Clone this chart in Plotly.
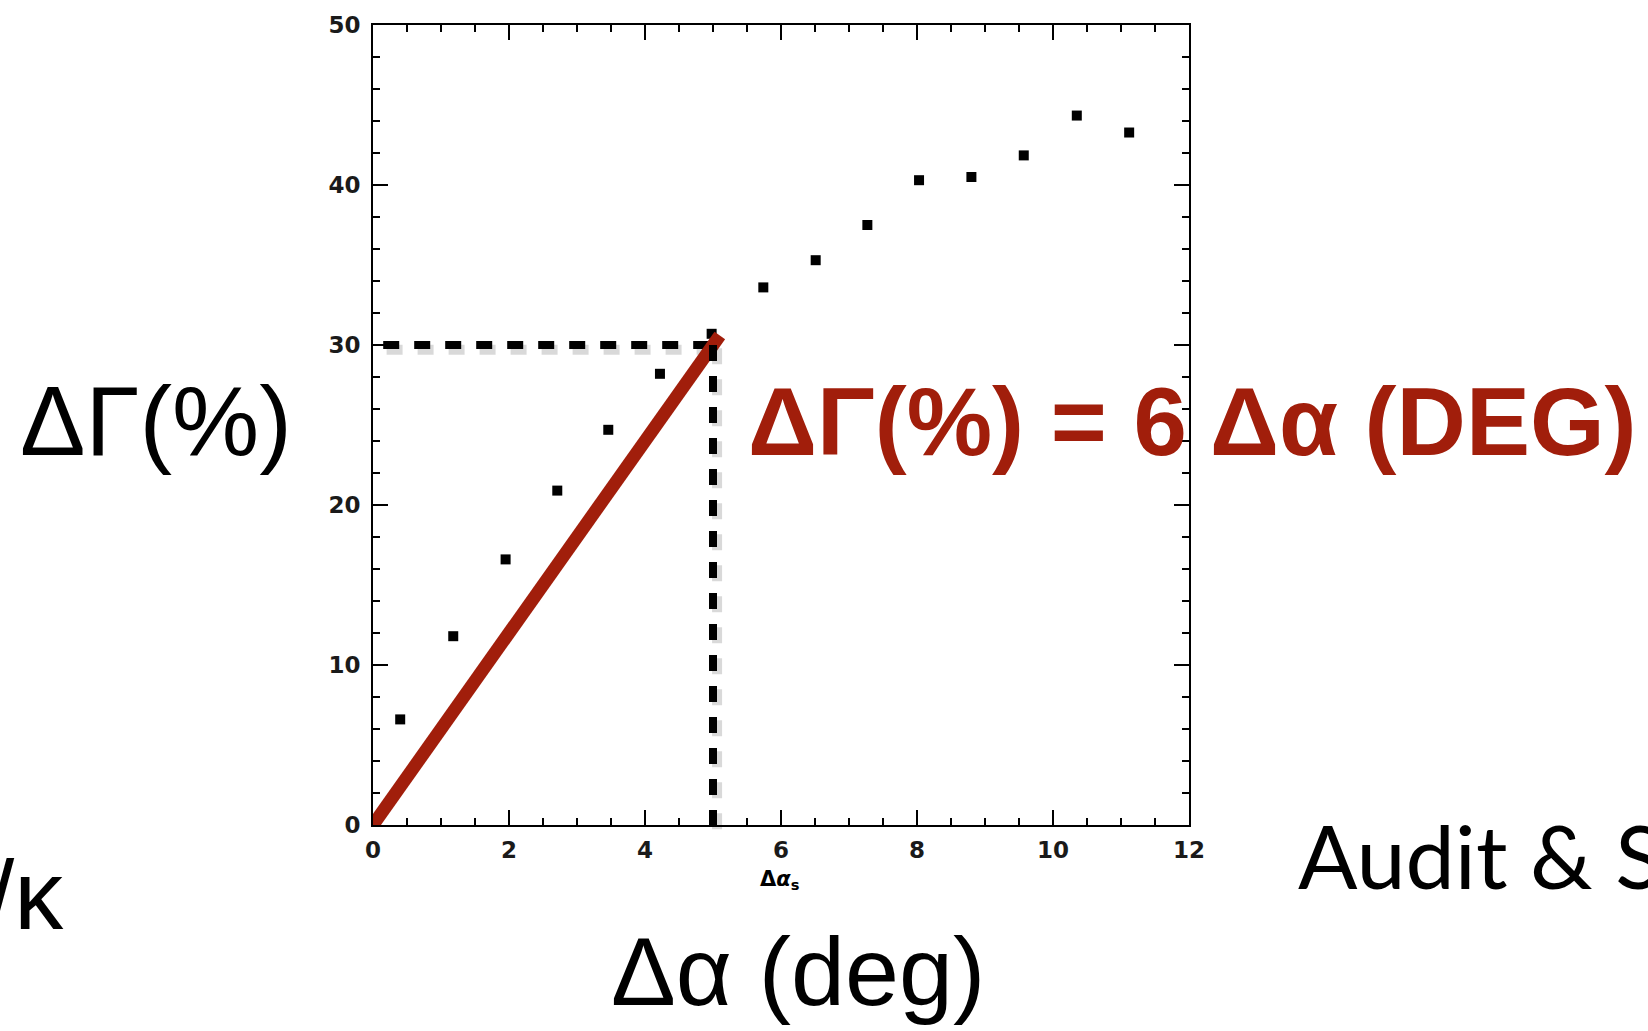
import plotly.graph_objects as go

# Measured growth-rate change vs. angle change
delta_alpha = [0.40, 1.18, 1.95, 2.71, 3.46, 4.22, 4.98, 5.74, 6.51, 7.27, 8.03, 8.80, 9.57, 10.35, 11.12]
delta_gamma = [6.6, 11.8, 16.6, 20.9, 24.7, 28.2, 30.7, 33.6, 35.3, 37.5, 40.3, 40.5, 41.85, 44.34, 43.28]

# Linear rule of thumb: dGamma(%) = 6 * dAlpha(deg)
fit_slope = 6
fit_x = [0, 5.1]
fit_y = [fit_slope * v for v in fit_x]

# Reference read-off point
ref_x = 5.0
ref_y = 30.0

x_range = [0, 12]
y_range = [0, 50]

W, H = 1648, 1031
L, R, T, B = 373, 1189, 21, 825  # plot area in pixels

RED = "#A11E0B"
DASH = "16px,15px"


def paper(px, py):
    return (px - L) / (R - L), (B - py) / (B - T)


fig = go.Figure()

fig.add_trace(go.Scatter(
    x=delta_alpha, y=delta_gamma, mode="markers",
    marker=dict(symbol="square", size=10, color="black", line=dict(width=0)),
    showlegend=False,
))

# soft shadow under the horizontal dashed guide
fig.add_trace(go.Scatter(
    x=[0.2, ref_x + 0.05], y=[ref_y - 0.3, ref_y - 0.3], mode="lines",
    line=dict(color="rgba(0,0,0,0.15)", width=10, dash=DASH),
    showlegend=False, hoverinfo="skip",
))

# horizontal dashed guide
fig.add_trace(go.Scatter(
    x=[0.15, ref_x], y=[ref_y, ref_y], mode="lines",
    line=dict(color="black", width=8, dash=DASH),
    showlegend=False, hoverinfo="skip",
))

# vertical dashed guide (runs slightly past the x axis)
ref_y_paper = (ref_y - y_range[0]) / (y_range[1] - y_range[0])
fig.add_shape(type="line", xref="x", yref="paper",
              x0=ref_x + 0.06, x1=ref_x + 0.06, y0=ref_y_paper - 0.004, y1=-0.014,
              line=dict(color="rgba(0,0,0,0.15)", width=10, dash=DASH))
fig.add_shape(type="line", xref="x", yref="paper",
              x0=ref_x, x1=ref_x, y0=ref_y_paper, y1=-0.01,
              line=dict(color="black", width=8, dash=DASH))

# linear fit line
fig.add_trace(go.Scatter(
    x=fit_x, y=fit_y, mode="lines",
    line=dict(color=RED, width=13),
    showlegend=False, hoverinfo="skip",
))

axis_common = dict(
    showline=True, linewidth=2, linecolor="black", mirror="allticks",
    ticks="inside", ticklen=15, tickwidth=2, tickcolor="black",
    showgrid=False, zeroline=False,
    tickfont=dict(family="DejaVu Sans", size=23, color="#1a1a1a", weight="bold"),
)

fig.update_xaxes(range=x_range, tick0=0, dtick=2, ticklabelstandoff=3,
                 minor=dict(dtick=0.5, ticks="inside", ticklen=7, tickwidth=2, tickcolor="black"),
                 **axis_common)
fig.update_yaxes(range=y_range, tick0=0, dtick=10, ticklabelstandoff=6,
                 minor=dict(dtick=2, ticks="inside", ticklen=7, tickwidth=2, tickcolor="black"),
                 **axis_common)

annotations = []


def note(text, px, py, size, family="Liberation Sans", color="black", xanchor="center"):
    x, y = paper(px, py)
    annotations.append(dict(text=text, x=x, y=y, xref="paper", yref="paper",
                            xanchor=xanchor, yanchor="middle", showarrow=False,
                            font=dict(family=family, size=size, color=color)))


note("ΔΓ(%)", 156, 419, 98)
note("<b>ΔΓ(%) = 6 Δα (DEG)</b>", 746, 419, 96, color=RED, xanchor="left")
note("Δα (deg)", 798, 972, 97)
note("Audit &amp; S", 1296, 855, 88, family="Lato", xanchor="left")
note("/κ", 66, 895, 98, xanchor="right")
note("<b>Δ<i>α</i><sub>s</sub></b>", 780, 880, 21, family="DejaVu Sans")

fig.update_layout(
    width=W, height=H,
    margin=dict(l=L, r=W - R, t=T, b=H - B, pad=0),
    plot_bgcolor="white", paper_bgcolor="white",
    annotations=annotations,
)

fig.write_html("out.html")
